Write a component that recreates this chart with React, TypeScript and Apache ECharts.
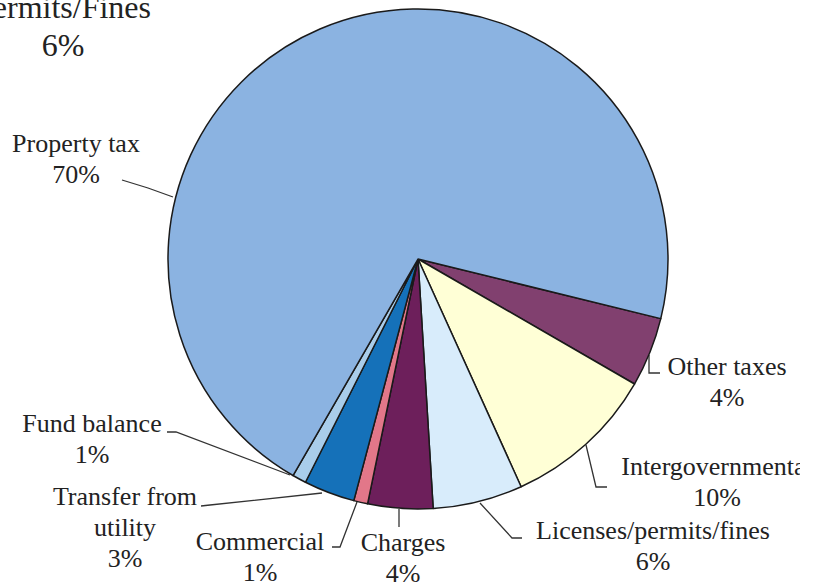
import React, { useEffect, useRef } from "react";
import * as echarts from "echarts";

const categories = [
  "Other taxes",
  "Intergovernmental",
  "Licenses/permits/fines",
  "Charges",
  "Commercial",
  "Transfer from\nutility",
  "Fund balance",
  "Property tax",
];
// slice shares (angles)
const sliceValues = [4.5, 9.9, 5.8, 4.2, 0.9, 3.3, 0.9, 70.5];
// percentages printed on the labels
const labelPercents = [4, 10, 6, 4, 1, 3, 1, 70];
const sliceColors = [
  "#81406f",
  "#ffffd6",
  "#d8ecfb",
  "#6d1f5b",
  "#e27789",
  "#1571b9",
  "#a9cdea",
  "#8bb3e1",
];

// label layout (block centers and leader-line points), page pixels
const labelLayouts = [
  { x: 727, y: 382, line: [[649, 355], [649, 373], [660, 373]] },
  { x: 717, y: 482, line: [[586, 445], [596, 487], [607, 487]] },
  { x: 653, y: 546, line: [[480, 503], [512, 538], [522, 538]] },
  { x: 403, y: 558, line: [[399, 509], [399, 518], [399, 527]] },
  { x: 260, y: 557, line: [[357, 502], [340, 547], [332, 547]] },
  { x: 125, y: 527, line: [[322, 493], [210, 505], [201, 506]] },
  { x: 92, y: 439, line: [[290, 475], [176, 432], [167, 432]] },
  { x: 76, y: 159, line: [[173, 197], [148, 188], [122, 180]] },
];

const FONT = "'Liberation Serif', 'Times New Roman', serif";

export default function App() {
  const ref = useRef<HTMLDivElement>(null);
  useEffect(() => {
    if (!ref.current) return;
    const chart = echarts.init(ref.current, null, { renderer: "svg" });
    chart.setOption({
      animation: false,
      backgroundColor: "#ffffff",
      graphic: [
        {
          type: "text",
          x: 63,
          y: 26,
          z: 10,
          style: {
            text: "Permits/Fines\n6%",
            fontFamily: FONT,
            fontSize: 32,
            lineHeight: 38,
            fill: "#222",
            align: "center",
            verticalAlign: "middle",
          },
        },
        {
          type: "rect",
          z: 100,
          shape: { x: 800, y: 0, width: 20, height: 583 },
          style: { fill: "#ffffff" },
        },
      ],
      series: [
        {
          type: "pie",
          center: [418, 259],
          radius: [0, 250],
          startAngle: -13.8,
          clockwise: true,
          avoidLabelOverlap: false,
          itemStyle: { borderColor: "#1a1a1a", borderWidth: 1.5 },
          label: {
            show: true,
            position: "outside",
            fontFamily: FONT,
            fontSize: 26,
            lineHeight: 31,
            color: "#222",
            align: "center",
            formatter: (p: any) => `${p.name}\n${labelPercents[p.dataIndex]}%`,
          },
          labelLine: { show: true, lineStyle: { color: "#333", width: 1.3 } },
          labelLayout: (params: any) => {
            const l = labelLayouts[params.dataIndex];
            return {
              x: l.x,
              y: l.y,
              align: "center",
              verticalAlign: "middle",
              labelLinePoints: l.line,
            };
          },
          emphasis: { disabled: true },
          data: categories.map((name, i) => ({
            name,
            value: sliceValues[i],
            itemStyle: { color: sliceColors[i] },
          })),
        },
      ],
    });
    return () => chart.dispose();
  }, []);
  return (
    <div
      ref={ref}
      style={{ position: "fixed", left: 0, top: 0, width: 820, height: 583 }}
    />
  );
}
